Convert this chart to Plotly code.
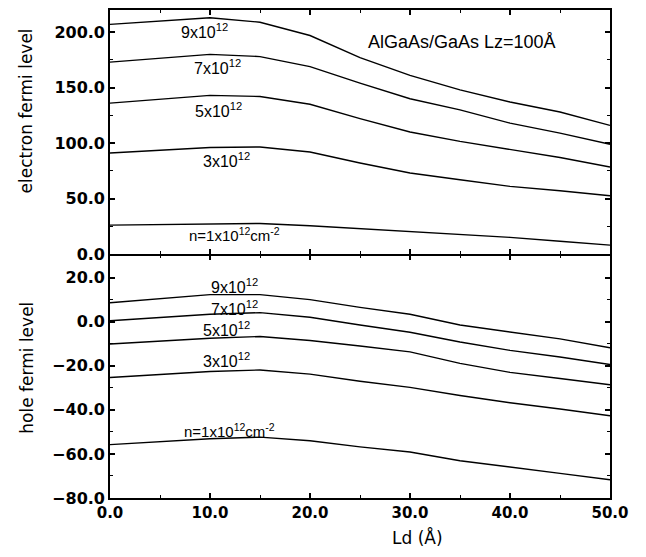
import plotly.graph_objects as go
from plotly.subplots import make_subplots

# ---- data ----
ld = [0, 10, 15, 20, 25, 30, 35, 40, 45, 50]

elec_9 = [207, 213, 209, 197, 177, 161, 148, 137, 128, 116]
elec_7 = [173, 180, 178, 169, 154, 140, 130, 118, 109, 99]
elec_5 = [136, 143, 142, 135, 122, 110, 101.5, 94, 87, 78.5]
elec_3 = [91, 96, 96.5, 92, 82, 73, 67, 61, 57, 52.5]
elec_1 = [26, 27, 27.5, 25.5, 23, 20.5, 18, 15, 11.5, 8]

hole_9 = [8.6, 12.3, 12.3, 10, 6.5, 3.4, -1.5, -4.8, -7.8, -11.8]
hole_7 = [0.4, 3.4, 4.1, 2, -1.5, -4.8, -9.2, -13, -16, -19.4]
hole_5 = [-10.1, -7.5, -6.7, -8.5, -11, -13.7, -18.9, -23, -25.8, -28.6]
hole_3 = [-25.3, -22.6, -21.9, -23.8, -27, -29.8, -33.5, -36.8, -39.6, -42.7]
hole_1 = [-55.8, -53.1, -52.4, -54, -56.8, -59.1, -63.1, -66.1, -68.8, -71.7]

density_labels = ["9x10<sup>12</sup>", "7x10<sup>12</sup>", "5x10<sup>12</sup>",
                  "3x10<sup>12</sup>", "n=1x10<sup>12</sup>cm<sup>-2</sup>"]

x_ticks = [0, 10, 20, 30, 40, 50]
elec_ticks = [0, 50, 100, 150, 200]
hole_ticks = [-80, -60, -40, -20, 0, 20]

fig = make_subplots(rows=2, cols=1, shared_xaxes=True, vertical_spacing=0)

line_style = dict(color="black", width=1.4)
for series in [elec_9, elec_7, elec_5, elec_3, elec_1]:
    fig.add_trace(go.Scatter(x=ld, y=series, mode="lines", line=line_style,
                             showlegend=False, hoverinfo="skip"), row=1, col=1)
for series in [hole_9, hole_7, hole_5, hole_3, hole_1]:
    fig.add_trace(go.Scatter(x=ld, y=series, mode="lines", line=line_style,
                             showlegend=False, hoverinfo="skip"), row=2, col=1)

LW = 1.6
tickfont = dict(family="DejaVu Sans", size=16, color="black", weight="bold")
axis_common = dict(
    showline=True, linecolor="black", linewidth=LW, mirror="ticks",
    ticks="inside", ticklen=5, tickwidth=1.5, tickcolor="black",
    showgrid=False, zeroline=False, tickformat=".1f", tickfont=tickfont,
)

fig.update_xaxes(range=[0, 50], tickvals=x_ticks,
                 minor=dict(dtick=5, tick0=0, ticks="inside", ticklen=3, tickwidth=1.2,
                            tickcolor="black", showgrid=False),
                 **axis_common)
fig.update_xaxes(tickfont=dict(family="DejaVu Sans", size=15, color="black", weight="bold"),
                 row=2, col=1)
fig.update_yaxes(range=[0, 220], tickvals=elec_ticks,
                 minor=dict(dtick=25, tick0=0, ticks="inside", ticklen=3, tickwidth=1.2,
                            tickcolor="black", showgrid=False),
                 row=1, col=1, **axis_common)
fig.update_yaxes(range=[-80, 30], tickvals=hole_ticks,
                 minor=dict(dtick=10, tick0=0, ticks="inside", ticklen=3, tickwidth=1.2,
                            tickcolor="black", showgrid=False),
                 row=2, col=1, **axis_common)

lab_font = dict(family="Liberation Sans, Arial", size=16, color="black")
small_font = dict(family="Liberation Sans, Arial", size=15, color="black")

# curve labels, top panel
top_pos = [(9.45, 201.5), (10.7, 168.5), (10.8, 129.5), (11.6, 84.5), (12.4, 18)]
for i, (txt, (xp, yp)) in enumerate(zip(density_labels, top_pos)):
    fig.add_annotation(x=xp, y=yp, xref="x", yref="y", text=txt, showarrow=False,
                       font=small_font if i == 4 else lab_font)
# curve labels, bottom panel
bot_pos = [(12.4, 16.3), (12.4, 6.4), (11.6, -3.3), (11.65, -17.3), (11.9, -49.3)]
for i, (txt, (xp, yp)) in enumerate(zip(density_labels, bot_pos)):
    fig.add_annotation(x=xp, y=yp, xref="x2", yref="y2", text=txt, showarrow=False,
                       font=small_font if i == 4 else lab_font)

fig.add_annotation(x=35.2, y=191, xref="x", yref="y", text="AlGaAs/GaAs Lz=100Å",
                   showarrow=False, font=dict(family="Liberation Sans, Arial", size=18, color="black"))

title_font = dict(family="DejaVu Sans", size=17, color="black")
fig.add_annotation(x=-0.168, y=0.792, xref="paper", yref="paper", text="electron fermi level",
                   textangle=-90, showarrow=False, font=title_font, xanchor="center", yanchor="middle")
fig.add_annotation(x=-0.165, y=0.266, xref="paper", yref="paper", text="hole fermi level",
                   textangle=-90, showarrow=False, font=title_font, xanchor="center", yanchor="middle")
fig.add_annotation(x=0.614, y=-0.0816, xref="paper", yref="paper", text="Ld (Å)",
                   showarrow=False, font=title_font, xanchor="center", yanchor="middle")

# the page places the figure 8px in from the top-left corner
H = 549
T, B = 0, 59
plot_h = H - T - B
fig.update_layout(
    width=638, height=H,
    margin=dict(l=102, r=36, t=T, b=B),
    paper_bgcolor="white", plot_bgcolor="white",
    showlegend=False,
    # lower panel's top edge shifted so both axis lines at the divider coincide
    yaxis2=dict(domain=[0, 0.5 - LW / plot_h]),
)

fig.write_html("out.html")
